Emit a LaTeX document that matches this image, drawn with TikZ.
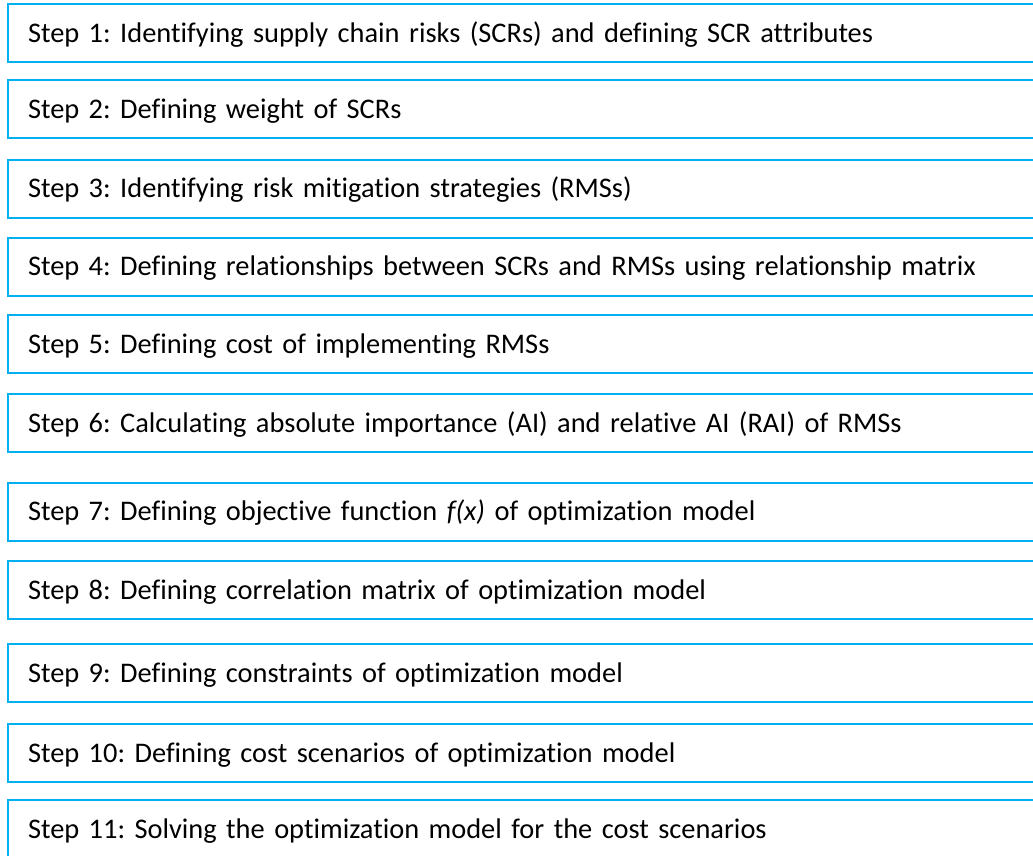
\documentclass[tikz,border=0pt]{standalone}
\usepackage{fontspec}
\setmainfont[Ligatures=NoCommon]{Carlito}
\definecolor{stepblue}{HTML}{00B0F0}
\begin{document}
\begin{tikzpicture}[x=1pt,y=-1pt,
  stepbox/.style={draw=stepblue, line width=2pt, rectangle, anchor=west,
    minimum width=1060pt, minimum height=58pt, inner xsep=20pt,
    text width=1020pt, align=left, font=\fontsize{28.4}{32}\selectfont\frenchspacing,
    text height=18pt, text depth=0pt}]
\useasboundingbox (0,0) rectangle (1033,856);
\clip (0,0) rectangle (1033,856);
\node[stepbox] (s1) at (7,33.5) {Step 1: Identifying supply chain risks (SCRs) and defining SCR attributes};
\node[stepbox] (s2) at (7,109.5) {Step 2: Defining weight of SCRs};
\node[stepbox] (s3) at (7,188.5) {Step 3: Identifying risk mitigation strategies (RMSs)};
\node[stepbox] (s4) at (7,266.5) {Step 4: Defining relationships between SCRs and RMSs using relationship matrix};
\node[stepbox] (s5) at (7,344) {Step 5: Defining cost of implementing RMSs};
\node[stepbox] (s6) at (7,423) {Step 6: Calculating absolute importance (AI) and relative AI (RAI) of RMSs};
\node[stepbox] (s7) at (7,511.5) {Step 7: Defining objective function \textit{f(x)} of optimization model};
\node[stepbox] (s8) at (7,590) {Step 8: Defining correlation matrix of optimization model};
\node[stepbox] (s9) at (7,673) {Step 9: Defining constraints of optimization model};
\node[stepbox] (s10) at (7,753) {Step 10: Defining cost scenarios of optimization model};
\node[stepbox] (s11) at (7,829) {Step 11: Solving the optimization model for the cost scenarios};
\end{tikzpicture}
\end{document}
